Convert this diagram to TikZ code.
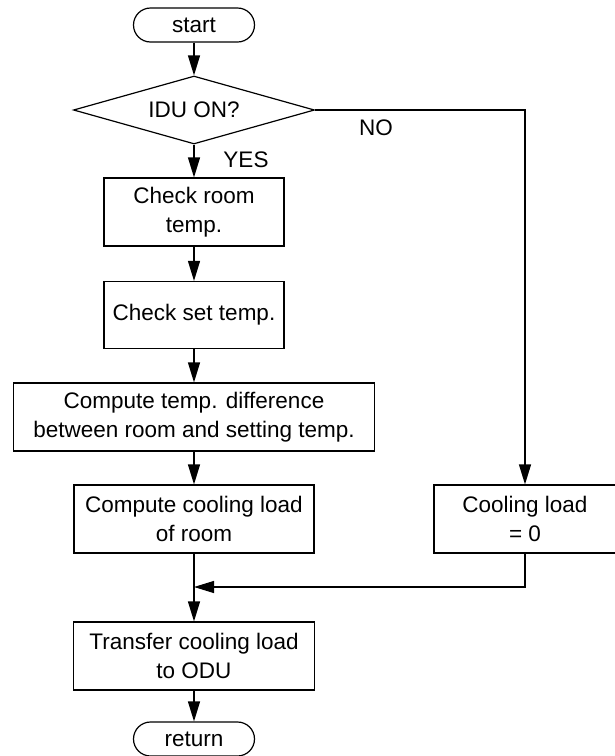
\documentclass[tikz,border=0pt]{standalone}
\usepackage{fontspec}
\setmainfont{Liberation Sans}
\usetikzlibrary{shapes.geometric,shapes.misc,arrows.meta}
\begin{document}
\begin{tikzpicture}[x=1pt,y=-1pt,
  font=\fontsize{22.5}{29}\selectfont,
  every node/.style={inner sep=0pt, align=center},
  box/.style={draw, rectangle, line width=1.2pt},
  term/.style={draw, rounded rectangle, line width=1.2pt, minimum width=121pt, minimum height=34pt},
  decide/.style={draw, diamond, aspect=3.54, minimum width=241pt, minimum height=68pt, line width=1.2pt},
  flow/.style={line width=1.2pt, -{Triangle[length=20pt,width=12pt]}},
  lbl/.style={inner sep=0pt}]
\useasboundingbox (0,0) rectangle (614,756);
\node[term] (start) at (194,25) {start};
\node[decide] (dia) at (194,110) {IDU ON?};
\node[box, minimum width=180pt, minimum height=68pt] (room) at (194,212) {Check room\\temp.};
\node[box, minimum width=180pt, minimum height=67pt] (set) at (194,315) {Check set temp.};
\node[box, minimum width=361pt, minimum height=68pt] (diff) at (194,417) {Compute temp. difference\\between room and setting temp.};
\node[box, minimum width=240pt, minimum height=68pt] (cool) at (194,519) {Compute cooling load\\of room};
\node[box, minimum width=182pt, minimum height=68pt] (zero) at (525,519) {Cooling load\\= 0};
\node[box, minimum width=241pt, minimum height=68pt] (xfer) at (194,656) {Transfer cooling load\\to ODU};
\node[term] (ret) at (194,739) {return};
\node[lbl] (yes) at (246,160) {YES};
\node[lbl] (no) at (376,128) {NO};
\coordinate (m) at (194,587);
\draw[flow] (start.south) -- (dia.north);
\draw[flow] (dia.south) -- (room.north);
\draw[flow] (room.south) -- (set.north);
\draw[flow] (set.south) -- (diff.north);
\draw[flow] (diff.south) -- (cool.north);
\draw[flow] (dia.east) -| (zero.north);
\draw[flow] (cool.south) -- (xfer.north);
\draw[flow] (zero.south) |- (m);
\draw[flow] (xfer.south) -- (ret.north);
\end{tikzpicture}
\end{document}
